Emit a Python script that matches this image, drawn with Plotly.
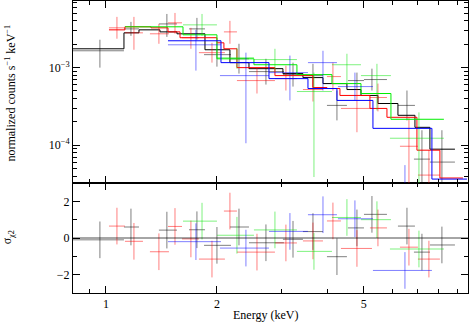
import plotly.graph_objects as go

# black spectrum: bin centre / edges (keV), flux (counts/s/keV), errors, residuals (sigma)
blk_e = [0.963, 1.169, 1.463, 1.765, 2.0, 2.295, 2.716, 3.216, 3.643, 4.232, 4.795, 5.266, 6.553, 7.196, 8.152]
blk_elo = [0.814, 1.119, 1.392, 1.68, 1.845, 2.169, 2.443, 3.02, 3.422, 3.976, 4.532, 5.01, 6.194, 6.845, 7.563]
blk_ehi = [1.119, 1.229, 1.558, 1.856, 2.183, 2.443, 3.039, 3.422, 3.878, 4.504, 5.01, 5.783, 6.888, 7.563, 8.843]
blk_f = [1.65e-3, 3.16e-3, 3.66e-3, 3.16e-3, 1.47e-3, 1.30e-3, 8.89e-4, 8.13e-4, 7.89e-4, 3.26e-4, 6.81e-4, 7.02e-4, 3.26e-4, 6.62e-5, 6.06e-5]
blk_flo = [1.0e-3, 2.57e-3, 2.49e-3, 2.29e-3, 1.03e-3, 8.38e-4, 6.05e-4, 5.70e-4, 5.54e-4, 2.09e-4, 5.38e-4, 5.07e-4, 2.09e-4, 1.97e-5, 1.97e-5]
blk_fhi = [2.29e-3, 3.89e-3, 4.92e-3, 4.38e-3, 2.09e-3, 2.03e-3, 1.30e-3, 1.16e-3, 1.12e-3, 5.07e-4, 8.63e-4, 9.7e-4, 5.07e-4, 1.56e-4, 1.56e-4]
blk_res = [-0.1, 0.6, 0.43, 0.45, -0.4, 0.6, -0.26, -0.07, 0.35, -1.02, 0.55, 1.29, 0.65, -0.77, -0.38]
blk_mod_edges = [0.814, 1.119, 1.229, 1.401, 1.558, 1.856, 2.169, 2.443, 3.02, 3.422, 3.878, 4.504, 4.917, 5.467, 6.194, 6.888, 7.563, 8.843]
blk_mod = [1.75e-3, 2.81e-3, 3.07e-3, 2.89e-3, 2.73e-3, 1.70e-3, 1.16e-3, 9.7e-4, 8.38e-4, 7.44e-4, 6.23e-4, 5.22e-4, 4.38e-4, 3.45e-4, 2.43e-4, 1.70e-4, 8.89e-5]

red_e = [1.071, 1.191, 1.392, 1.539, 1.70, 1.939, 2.169, 2.568, 3.077, 3.643, 4.127, 4.795, 5.467, 6.635, 7.516]
red_elo = [1.019, 1.126, 1.316, 1.473, 1.608, 1.787, 2.089, 2.266, 2.873, 3.422, 3.976, 4.339, 5.2, 6.272, 7.018]
red_ehi = [1.126, 1.26, 1.482, 1.608, 1.787, 2.102, 2.266, 2.873, 3.296, 3.878, 4.339, 5.266, 5.783, 7.018, 8.05]
red_f = [3.26e-3, 2.81e-3, 2.73e-3, 3.78e-3, 2.43e-3, 1.56e-3, 2.89e-3, 6.81e-4, 7.22e-4, 5.22e-4, 7.67e-4, 2.98e-4, 4.12e-4, 9.7e-5, 4.12e-5]
red_flo = [2.36e-3, 1.70e-3, 2.03e-3, 2.73e-3, 1.75e-3, 1.16e-3, 2.03e-3, 4.64e-4, 5.07e-4, 3.66e-4, 5.07e-4, 1.47e-4, 2.73e-4, 1.47e-5, 1.47e-5]
red_fhi = [4.51e-3, 4.51e-3, 3.66e-3, 5.07e-3, 3.26e-3, 2.09e-3, 4.01e-3, 1.0e-3, 1.06e-3, 7.44e-4, 1.16e-3, 5.38e-4, 6.23e-4, 2.22e-4, 8.63e-5]
red_res = [0.65, -0.18, -0.75, 0.63, -0.05, -1.15, 1.47, -0.77, -0.27, -0.16, 0.93, -0.57, 0.55, -0.5, -1.15]
red_mod_edges = [1.019, 1.126, 1.325, 1.473, 1.588, 2.0, 2.089, 2.266, 2.873, 3.643, 3.976, 4.312, 5.2, 5.783, 6.974, 8.05, 9.297]
red_mod = [3.07e-3, 3.36e-3, 3.26e-3, 2.89e-3, 2.43e-3, 2.09e-3, 1.75e-3, 1.0e-3, 7.89e-4, 5.54e-4, 5.38e-4, 4.38e-4, 2.98e-4, 2.29e-4, 8.63e-5, 3.78e-5]

grn_e = [1.822, 2.266, 2.873, 3.666, 4.504, 5.433, 7.062]
grn_elo = [1.618, 2.0, 2.52, 3.296, 4.102, 4.917, 5.892]
grn_ehi = [2.0, 2.52, 3.296, 4.102, 4.917, 5.929, 8.253]
grn_f = [3.56e-3, 1.34e-3, 1.27e-3, 4.92e-4, 1.09e-3, 7.89e-4, 1.23e-4]
grn_flo = [2.57e-3, 9.7e-4, 9.16e-4, 3.89e-5, 6.23e-4, 2.81e-4, 1.47e-5]
grn_fhi = [4.92e-3, 1.80e-3, 1.75e-3, 8.63e-4, 1.51e-3, 1.12e-3, 2.65e-4]
grn_res = [0.92, 0.15, 0.44, -0.73, 1.12, 1.0, -0.6]
grn_mod_edges = [1.126, 1.618, 2.0, 2.52, 3.296, 4.102, 4.917, 5.929, 8.253]
grn_mod = [3.36e-3, 2.65e-3, 1.30e-3, 1.09e-3, 8.13e-4, 6.23e-4, 4.64e-4, 2.16e-4]

blu_e = [1.754, 2.397, 3.155, 3.878, 4.735, 6.471]
blu_elo = [1.473, 2.038, 2.768, 3.531, 4.258, 5.299]
blu_ehi = [2.051, 2.768, 3.531, 4.232, 5.299, 7.658]
blu_f = [1.97e-3, 7.89e-4, 8.63e-4, 1.16e-3, 5.70e-4, 2.65e-5]
blu_flo = [9.16e-4, 1.06e-4, 3.78e-4, 5.07e-4, 3.78e-4, 5e-6]
blu_fhi = [3.07e-3, 1.56e-3, 1.43e-3, 1.65e-3, 8.63e-4, 5.54e-5]
blu_res = [-0.2, -0.55, 0.36, 1.27, 1.05, -1.77]
blu_mod_edges = [1.473, 2.051, 2.768, 3.531, 4.232, 5.299, 7.658, 9.531]
blu_mod = [2.22e-3, 1.16e-3, 7.22e-4, 5.38e-4, 3.78e-4, 1.65e-4, 3.66e-5]

x_ticks = [1, 2, 5]
x_minor = [0.9, 3, 4, 6, 7, 8, 9]
y_ticks = [1e-4, 1e-3]
y_ticktext = ["10<sup>\u22124</sup>", "10<sup>\u22123</sup>"]
y_minor = [k * 1e-5 for k in range(4, 10)] + [k * 1e-4 for k in range(2, 10)] + [k * 1e-3 for k in range(2, 8)]

FONT = "Liberation Serif"
NOMARK = dict(size=2, color="rgba(0,0,0,0)")


def add_set(fig, col, rgba, e, elo, ehi, f, flo, fhi, res, edges, mod):
    ex = [h - c for c, h in zip(e, ehi)]
    exm = [c - l for c, l in zip(e, elo)]
    fig.add_trace(go.Scatter(
        x=e, y=f, mode="markers", marker=NOMARK,
        error_x=dict(type="data", symmetric=False, array=ex, arrayminus=exm, width=0, thickness=1, color=rgba),
        error_y=dict(type="data", symmetric=False,
                     array=[h - v for v, h in zip(f, fhi)],
                     arrayminus=[v - l for v, l in zip(f, flo)],
                     width=0, thickness=1, color=rgba),
        xaxis="x2", yaxis="y2", hoverinfo="skip"))
    fig.add_trace(go.Scatter(
        x=edges, y=mod + [mod[-1]], mode="lines", line=dict(shape="hv", color=col, width=1),
        xaxis="x2", yaxis="y2", hoverinfo="skip"))
    fig.add_trace(go.Scatter(
        x=e, y=res, mode="markers", marker=NOMARK,
        error_x=dict(type="data", symmetric=False, array=ex, arrayminus=exm, width=0, thickness=1, color=rgba),
        error_y=dict(type="data", array=[1.0] * len(res), width=0, thickness=1, color=rgba),
        xaxis="x", yaxis="y", hoverinfo="skip"))


fig = go.Figure()
add_set(fig, "black", "rgba(0,0,0,0.5)", blk_e, blk_elo, blk_ehi, blk_f, blk_flo, blk_fhi, blk_res, blk_mod_edges, blk_mod)
add_set(fig, "red", "rgba(255,0,0,0.5)", red_e, red_elo, red_ehi, red_f, red_flo, red_fhi, red_res, red_mod_edges, red_mod)
add_set(fig, "#00ee00", "rgba(0,230,0,0.5)", grn_e, grn_elo, grn_ehi, grn_f, grn_flo, grn_fhi, grn_res, grn_mod_edges, grn_mod)
add_set(fig, "blue", "rgba(0,0,255,0.5)", blu_e, blu_elo, blu_ehi, blu_f, blu_flo, blu_fhi, blu_res, blu_mod_edges, blu_mod)

xrange = [-0.0894, 0.982]
split = 110 / 292

axis_common = dict(showline=True, linecolor="black", linewidth=1, mirror="ticks",
                   ticks="inside", ticklen=7, tickwidth=1, tickcolor="black",
                   showgrid=False, zeroline=False, automargin=False)

fig.update_layout(
    width=469, height=327,
    margin=dict(l=73, r=1, t=1, b=34, autoexpand=False),
    paper_bgcolor="white", plot_bgcolor="white",
    showlegend=False,
    font=dict(family=FONT, size=12, color="black"),
    xaxis=dict(type="log", range=xrange, domain=[0, 1], anchor="y",
               tickmode="array", tickvals=x_ticks, ticktext=["1", "2", "5"],
               minor=dict(tickmode="array", tickvals=x_minor, ticks="inside", ticklen=4, tickcolor="black"),
               tickfont=dict(size=12), **axis_common),
    xaxis2=dict(type="log", range=xrange, domain=[0, 1], anchor="y2", matches="x",
                tickmode="array", tickvals=x_ticks, showticklabels=False,
                minor=dict(tickmode="array", tickvals=x_minor, ticks="inside", ticklen=4, tickcolor="black"),
                **axis_common),
    yaxis=dict(range=[-3, 3], domain=[0, split], anchor="x",
               tickmode="array", tickvals=[-2, 0, 2], ticktext=["\u22122", "0", "2"],
               minor=dict(tickmode="array", tickvals=[-1, 1], ticks="inside", ticklen=4, tickcolor="black"),
               tickfont=dict(size=12), **axis_common),
    yaxis2=dict(type="log", range=[-4.487, -2.141], domain=[split, 1], anchor="x2",
                tickmode="array", tickvals=y_ticks, ticktext=y_ticktext,
                minor=dict(tickmode="array", tickvals=y_minor, ticks="inside", ticklen=4, tickcolor="black"),
                tickfont=dict(size=12), **axis_common),
)

# zero line in the residual panel
fig.add_shape(type="line", xref="x domain", yref="y", x0=0, x1=1, y0=0, y1=0,
              line=dict(color="rgba(0,0,0,0.7)", width=1))

fig.add_annotation(text="Energy (keV)", xref="paper", yref="paper", x=0.487, y=-0.075,
                   xanchor="center", yanchor="middle", showarrow=False, font=dict(size=12))
fig.add_annotation(text="normalized counts s<sup>\u22121</sup> keV<sup>\u22121</sup>", xref="paper", yref="paper",
                   x=-0.158, y=0.685, textangle=-90, xanchor="center", yanchor="middle",
                   showarrow=False, font=dict(size=12))
fig.add_annotation(text="\u03c3<sub>\u03c72</sub>", xref="paper", yref="paper",
                   x=-0.165, y=0.19, textangle=-90, xanchor="center", yanchor="middle",
                   showarrow=False, font=dict(size=12))

fig.write_html("out.html", config={"displayModeBar": False},
               post_script="document.body.style.margin='0';")
